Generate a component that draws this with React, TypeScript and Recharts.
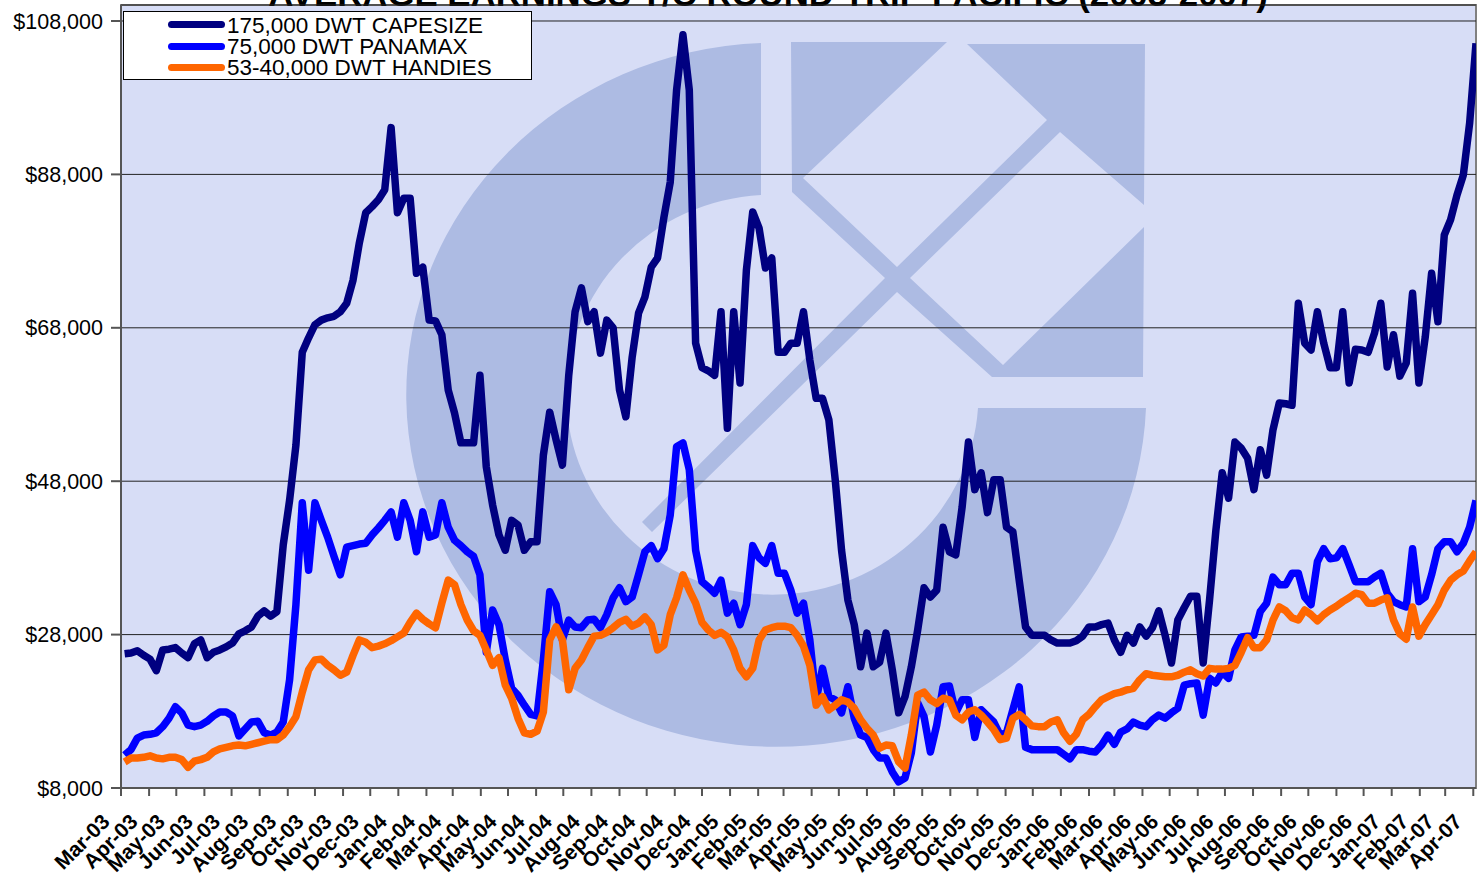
import React from 'react';
import { LineChart, Line, XAxis, YAxis, CartesianGrid, Legend } from 'recharts';

// monthly tick labels, Mar-03 to Apr-07
const monthLabels = [
  'Mar-03', 'Apr-03', 'May-03', 'Jun-03', 'Jul-03', 'Aug-03', 'Sep-03', 'Oct-03', 'Nov-03', 'Dec-03',
  'Jan-04', 'Feb-04', 'Mar-04', 'Apr-04', 'May-04', 'Jun-04', 'Jul-04', 'Aug-04', 'Sep-04', 'Oct-04',
  'Nov-04', 'Dec-04', 'Jan-05', 'Feb-05', 'Mar-05', 'Apr-05', 'May-05', 'Jun-05', 'Jul-05', 'Aug-05',
  'Sep-05', 'Oct-05', 'Nov-05', 'Dec-05', 'Jan-06', 'Feb-06', 'Mar-06', 'Apr-06', 'May-06', 'Jun-06',
  'Jul-06', 'Aug-06', 'Sep-06', 'Oct-06', 'Nov-06', 'Dec-06', 'Jan-07', 'Feb-07', 'Mar-07', 'Apr-07',
];
const yTicks = [8000, 28000, 48000, 68000, 88000, 108000];

// weekly values, first one is early March 2003
const capesize = [
  25500, 25600, 25900, 25300, 24800, 23300, 26000, 26100, 26300, 25600,
  25000, 26800, 27300, 25000, 25700, 26000, 26400, 26900, 28100, 28500,
  29000, 30400, 31100, 30400, 31000, 39700, 45500, 52700, 64800, 66700,
  68400, 69000, 69300, 69500, 70100, 71200, 74200, 79100, 83000, 83800,
  84700, 86000, 94100, 83000, 84900, 84900, 75100, 75900, 69000, 68900,
  67100, 59900, 56900, 53000, 53000, 53000, 61800, 49900, 44900, 41000,
  39000, 42900, 42300, 39000, 40100, 40100, 51400, 57000, 53400, 50100,
  61800, 70100, 73200, 68800, 70100, 64700, 69000, 68000, 59900, 56400,
  64200, 69900, 72000, 75900, 77100, 82400, 87000, 99000, 106200, 99000,
  66000, 62800, 62400, 61800, 70100, 54900, 70100, 60800, 75500, 83100,
  81000, 75800, 77100, 64800, 64800, 66000, 66000, 70100, 63800, 58800,
  58800, 56000, 48200, 39000, 32500, 29300, 23800, 28200, 23800, 24400,
  28200, 23400, 17800, 19900, 23800, 28600, 34100, 32900, 33800, 42000,
  38800, 38400, 44600, 53100, 46900, 49100, 43900, 48200, 48200, 42000,
  41400, 35100, 29000, 27900, 27900, 27900, 27300, 26900, 26900, 26900,
  27200, 27800, 29000, 29000, 29300, 29500, 27300, 25700, 27900, 26900,
  29000, 27800, 28900, 31100, 27900, 24300, 29900, 31500, 33000, 33000,
  24300, 32500, 41600, 49100, 45800, 53100, 52300, 51000, 46900, 52100,
  48800, 54700, 58200, 58100, 57900, 71200, 66000, 65100, 70100, 66000,
  62800, 62800, 70100, 60800, 65200, 65100, 64800, 67300, 71200, 62900,
  67100, 61700, 63400, 72500, 60800, 66800, 75100, 68800, 80100, 82100,
  85300, 87900, 94700, 105100,
];
const panamax = [
  12300, 13000, 14500, 14900, 15000, 15200, 16000, 17100, 18600, 17800,
  16200, 16000, 16200, 16700, 17400, 17900, 17900, 17400, 14800, 15700,
  16600, 16700, 15200, 14900, 15300, 16600, 22100, 31900, 45200, 36400,
  45200, 42900, 40700, 38200, 35800, 39400, 39600, 39800, 39900, 41000,
  41900, 42900, 44000, 40700, 45200, 42900, 38800, 44000, 40700, 41000,
  45200, 42000, 40300, 39600, 38800, 38200, 35800, 25700, 31200, 29300,
  24700, 21000, 20100, 18800, 17600, 17400, 24700, 33600, 31900, 27300,
  29900, 29000, 28900, 29900, 30000, 28900, 30600, 32800, 34100, 32300,
  32900, 35800, 38800, 39600, 37900, 39200, 43600, 52500, 53000, 49500,
  39000, 34900, 34200, 33400, 35100, 30800, 32100, 29300, 31900, 39600,
  38000, 37300, 39600, 36000, 36000, 33800, 30800, 32100, 27300, 19500,
  23600, 19900, 19500, 17800, 21200, 17100, 14900, 14600, 13000, 11900,
  11900, 10100, 8800, 9300, 12600, 19100, 17300, 12700, 16200, 21200,
  21300, 17800, 19500, 19500, 14600, 18200, 17400, 16600, 14900, 15200,
  18200, 21200, 13300, 13000, 13000, 13000, 13000, 13000, 12400, 11800,
  13000, 13000, 12800, 12700, 13600, 14900, 13700, 15300, 15700, 16600,
  16200, 16000, 16900, 17500, 17100, 17800, 18400, 21400, 21600, 21700,
  17500, 22300, 21700, 23100, 22300, 26000, 27700, 27800, 27900, 31000,
  32100, 35500, 34500, 34500, 36000, 36000, 32900, 31900, 37500, 39200,
  37900, 38000, 39200, 37100, 34900, 34900, 34900, 35500, 36000, 33400,
  32300, 31900, 31600, 39200, 32300, 32900, 35800, 39200, 40100, 40100,
  38800, 39900, 42000, 45500,
];
const handies = [
  11400, 11900, 11900, 12000, 12200, 11900, 11800, 12000, 12000, 11700,
  10700, 11500, 11700, 12000, 12700, 13100, 13300, 13500, 13600, 13500,
  13700, 13900, 14100, 14300, 14300, 14900, 16000, 17300, 20500, 23400,
  24700, 24800, 24000, 23400, 22700, 23100, 25300, 27300, 27000, 26300,
  26500, 26800, 27200, 27700, 28200, 29600, 30800, 30000, 29400, 28900,
  32100, 35100, 34500, 31900, 29900, 28500, 27900, 26000, 24000, 25000,
  21400, 19700, 17100, 15200, 15000, 15400, 17900, 27300, 29000, 27300,
  20800, 23600, 24700, 26300, 27800, 27900, 28300, 28900, 29600, 30000,
  29100, 29500, 30300, 29300, 26000, 26600, 30600, 32800, 35800, 33800,
  32100, 29600, 28600, 27900, 28300, 27700, 26000, 23600, 22500, 23600,
  27300, 28600, 28900, 29100, 29100, 28900, 27900, 26500, 24000, 18800,
  19900, 18200, 18800, 19500, 19200, 18400, 16900, 15800, 14900, 13200,
  13600, 13500, 11400, 10600, 14900, 20100, 20500, 19500, 19000, 19700,
  19500, 17500, 16900, 17900, 18200, 17500, 16600, 15600, 14300, 14500,
  17100, 17600, 16900, 16100, 16000, 16000, 16600, 16900, 15200, 14100,
  15000, 16900, 17600, 18600, 19500, 19900, 20300, 20500, 20800, 21000,
  22100, 22900, 22700, 22600, 22500, 22500, 22700, 23100, 23400, 22900,
  22600, 23600, 23500, 23500, 23600, 24000, 25700, 27600, 26300, 26300,
  27300, 29900, 31600, 31100, 30200, 29900, 31200, 30600, 29800, 30600,
  31200, 31700, 32300, 32800, 33400, 33200, 32100, 32100, 32500, 32800,
  29900, 28100, 27400, 31600, 27800, 29300, 30600, 31900, 33800, 35100,
  35800, 36300, 37600, 38800,
];

const WEEK = 7 * 24 * 3600 * 1000;
const firstWeek = Date.UTC(2003, 2, 5);
const chartData = capesize.map((value, i) => ({
  date: firstWeek + i * WEEK,
  capesize: value,
  panamax: panamax[i],
  handies: handies[i],
}));
const monthTicks = monthLabels.map((_, k) => Date.UTC(2003, 2 + k, 1));

const legendRows = [
  { label: '175,000 DWT CAPESIZE', color: '#000080' },
  { label: '75,000 DWT PANAMAX', color: '#0000FF' },
  { label: '53-40,000 DWT HANDIES', color: '#FF6600' },
];

const font = '"Liberation Sans", Arial, sans-serif';

const MonthTick = ({ x, y, index }: any) => (
  <text
    x={x - 10}
    y={y + 25}
    transform={`rotate(-45 ${x - 10} ${y + 25})`}
    textAnchor="end"
    fontFamily={font}
    fontWeight="bold"
    fontSize={21}
    fill="#000"
  >
    {monthLabels[index]}
  </text>
);

const LegendBox = () => (
  <div style={{ width: 407, height: 67, background: '#fff', border: '1px solid #000', position: 'relative', fontFamily: font, fontSize: 22.5, color: '#000' }}>
    {legendRows.map((row, i) => (
      <div key={row.label} style={{ position: 'absolute', left: 44, top: 9 + i * 21.5, width: 57, height: 7, borderRadius: 3.5, background: row.color }} />
    ))}
    {legendRows.map((row, i) => (
      <div key={row.label} style={{ position: 'absolute', left: 103, top: 1 + i * 21, lineHeight: '25px', whiteSpace: 'nowrap' }}>{row.label}</div>
    ))}
  </div>
);

const App: React.FC = () => {
  return (
    <div style={{ position: 'absolute', left: 0, top: 0, width: 1477, height: 884, overflow: 'hidden', background: '#fff' }}>
      <svg width={1477} height={884} style={{ position: 'absolute', left: 0, top: 0 }}>
        <rect x={121} y={5} width={1355} height={783} fill="#D7DDF6" stroke="#808080" strokeWidth={2} />
        <path d="M761 43 A370 352 0 1 0 1146 408 L978 408 A206 200 0 1 1 761 195 Z" fill="#ADBBE3" />
        <path d="M791 42 L947 42 L803 178 L897 267 L1047 120 L967 44 L1145 44 L1144 205 L1060 132 L910 278 L1003 365 L1144 227 L1143 377 L992 377 L897 292 L652 532 L642 522 L885 278 L792 192 Z" fill="#ADBBE3" />
        <text x={768} y={6} textAnchor="middle" fontFamily={font} fontWeight="bold" fontSize={34.8} fill="#000">
          AVERAGE EARNINGS T/C ROUND TRIP PACIFIC (2003-2007)
        </text>
      </svg>
      <div style={{ position: 'absolute', left: 0, top: 0 }}>
        <LineChart width={1477} height={884} data={chartData} margin={{ top: 5, right: 1, bottom: 0, left: 0 }}>
          <CartesianGrid horizontal vertical={false} stroke="#222" strokeWidth={1} />
          <XAxis
            dataKey="date"
            type="number"
            domain={[Date.UTC(2003, 2, 1), Date.UTC(2007, 3, 4)]}
            allowDataOverflow
            ticks={monthTicks}
            interval={0}
            height={96}
            tickSize={8}
            tick={MonthTick}
            stroke="#555"
            strokeWidth={2}
          />
          <YAxis
            type="number"
            width={121}
            domain={[8000, 110086]}
            allowDataOverflow
            ticks={yTicks}
            interval={0}
            tickSize={10}
            tickMargin={8}
            tickFormatter={(v: number) => `$${v.toLocaleString('en-US')}`}
            tick={{ fontFamily: font, fontSize: 21.5, fill: '#000' }}
            stroke="#555"
            strokeWidth={2}
          />
          <Legend
            layout="vertical"
            align="center"
            verticalAlign="middle"
            content={<LegendBox />}
            wrapperStyle={{ position: 'absolute', left: 123, top: 11, width: 409, height: 69 }}
          />
          <Line type="linear" dataKey="capesize" stroke="#000080" strokeWidth={7.5} strokeLinejoin="round" dot={false} isAnimationActive={false} />
          <Line type="linear" dataKey="panamax" stroke="#0000FF" strokeWidth={7.5} strokeLinejoin="round" dot={false} isAnimationActive={false} />
          <Line type="linear" dataKey="handies" stroke="#FF6600" strokeWidth={7.5} strokeLinejoin="round" dot={false} isAnimationActive={false} />
        </LineChart>
      </div>
    </div>
  );
};

export default App;
